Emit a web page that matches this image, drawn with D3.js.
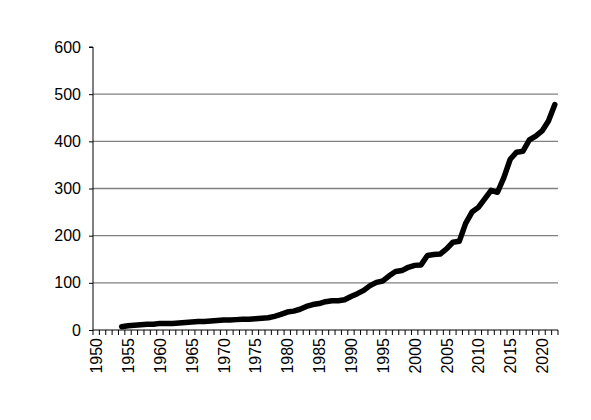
<!DOCTYPE html>
<html><head><meta charset="utf-8">
<script src="https://cdn.jsdelivr.net/npm/d3@7"></script>
<style>body{margin:0;background:#fff}</style>
</head><body><div id="chart"></div>
<script>
const years = d3.range(1950, 2023);
const values = [null, null, null, null,
  7, 9, 10, 11, 12, 12, 14, 14, 14, 15, 16, 17, 18, 18, 19, 20,
  21, 21, 22, 23, 23, 24, 25, 26, 29, 33, 38, 40, 44, 50, 54, 56,
  60, 62, 62, 64, 71, 77, 84, 94, 101, 104, 115, 124, 126, 133,
  137, 138, 158, 160, 161, 172, 186, 188, 226, 250, 260, 278, 296, 292,
  323, 362, 377, 379, 403, 411, 422, 443, 478];
const yTicks = [0, 100, 200, 300, 400, 500, 600];

const margin = { top: 47, right: 33, bottom: 90, left: 93 };
const width = 591, height = 420;

const svg = d3.select('#chart').append('svg')
  .attr('width', width).attr('height', height)
  .style('font-family', 'Liberation Sans, Arial, sans-serif');

const x = d3.scaleBand().domain(years).range([margin.left, width - margin.right]);
const y = d3.scaleLinear().domain([0, 600]).range([height - margin.bottom, margin.top]);

svg.append('g').selectAll('line').data(yTicks.slice(1, -1)).join('line')
  .attr('x1', margin.left).attr('x2', width - margin.right)
  .attr('y1', d => y(d)).attr('y2', d => y(d))
  .attr('stroke', '#808080').attr('stroke-width', 1.3);

const yAxis = svg.append('g').attr('transform', `translate(${margin.left},0)`)
  .call(d3.axisLeft(y).tickValues(yTicks).tickSize(4).tickPadding(8));
yAxis.select('.domain').attr('d', `M-4,${y(600)}H0V${y(0)}`);
yAxis.selectAll('text').attr('font-size', 16).attr('fill', '#000');

// tick marks at category boundaries
const xg = svg.append('g');
xg.append('line').attr('x1', margin.left).attr('x2', width - margin.right)
  .attr('y1', y(0)).attr('y2', y(0)).attr('stroke', '#000');
xg.selectAll('.tk').data(years.concat([2023])).join('line')
  .attr('x1', d => d === 2023 ? width - margin.right : x(d))
  .attr('x2', d => d === 2023 ? width - margin.right : x(d))
  .attr('y1', y(0)).attr('y2', y(0) + 5).attr('stroke', '#000');
xg.selectAll('text').data(years.filter(d => d % 5 === 0)).join('text')
  .attr('transform', d => `translate(${x(d) + x.bandwidth() / 2 + 6},${y(0) + 8}) rotate(-90)`)
  .attr('text-anchor', 'end').attr('font-size', 16).text(d => d);

const pts = years.map((d, i) => ({ year: d, v: values[i] })).filter(d => d.v !== null);
svg.append('path').datum(pts)
  .attr('fill', 'none').attr('stroke', '#000').attr('stroke-width', 5.5)
  .attr('stroke-linejoin', 'round').attr('stroke-linecap', 'round')
  .attr('d', d3.line().x(d => x(d.year) + x.bandwidth() / 2).y(d => y(d.v)));
</script></body></html>
